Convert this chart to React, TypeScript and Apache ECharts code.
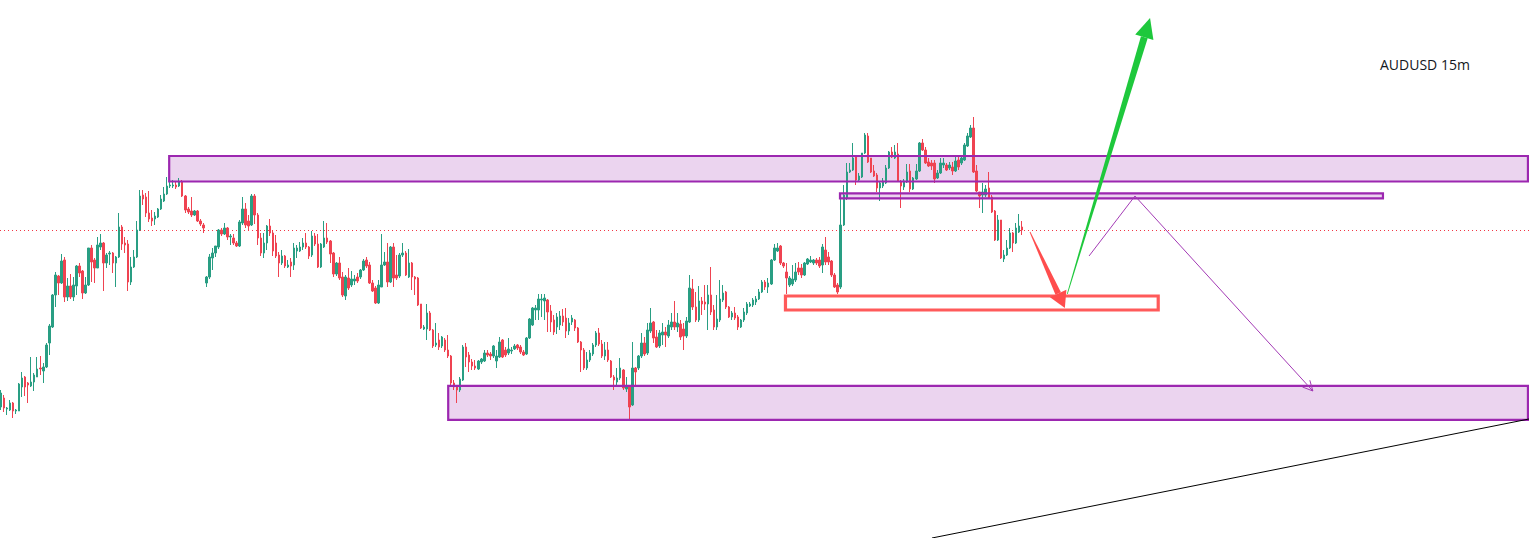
import React, { useEffect, useRef } from "react";
import * as echarts from "echarts";

const SYMBOL_LABEL = "AUDUSD 15m";
const BASE_PRICE = 0.65;
const POINT = 0.00001;

// OHLC of each 15m bar, in points above 0.65000
const opens = [
  593, 602, 591, 590, 597, 589, 589, 613, 623, 617,
  614, 618, 623, 632, 629, 633, 657, 673, 705, 724,
  717, 740, 703, 714, 703, 714, 734, 729, 707, 715,
  752, 740, 732, 753, 757, 737, 746, 747, 737, 743,
  773, 757, 756, 718, 733, 743, 770, 805, 803, 787,
  782, 781, 783, 791, 799, 806, 814, 814, 815, 814,
  818, 804, 791, 789, 785, 789, 779, 775, 717, 723,
  742, 747, 753, 770, 766, 772, 763, 762, 757, 754,
  777, 791, 779, 775, 804, 785, 762, 747, 757, 774,
  767, 757, 745, 737, 744, 733, 738, 735, 749, 749,
  753, 757, 753, 745, 764, 756, 733, 753, 762, 759,
  747, 726, 737, 723, 704, 722, 715, 719, 723, 723,
  730, 740, 735, 717, 712, 697, 713, 735, 738, 718,
  753, 725, 724, 745, 747, 723, 737, 723, 722, 696,
  671, 671, 687, 670, 655, 660, 654, 660, 650, 644,
  617, 613, 610, 620, 653, 645, 638, 634, 631, 638,
  639, 647, 646, 644, 639, 643, 660, 650, 647, 649,
  651, 655, 653, 648, 646, 662, 675, 690, 690, 700,
  699, 700, 689, 680, 673, 675, 684, 682, 669, 678,
  680, 672, 658, 650, 632, 640, 646, 655, 667, 656,
  644, 650, 639, 623, 618, 622, 630, 611, 613, 595,
  632, 632, 644, 657, 647, 669, 678, 663, 654, 665,
  668, 664, 673, 678, 673, 676, 671, 664, 678, 711,
  693, 680, 699, 698, 696, 705, 690, 673, 680, 700,
  708, 693, 683, 687, 683, 673, 680, 687, 694, 695,
  698, 701, 708, 718, 713, 716, 740, 749, 754, 737,
  728, 715, 716, 720, 732, 732, 725, 736, 738, 737,
  740, 740, 735, 750, 743, 739, 725, 715, 713, 775,
  802, 828, 830, 843, 820, 823, 847, 864, 842, 829,
  825, 812, 814, 817, 832, 848, 842, 846, 818, 813,
  818, 829, 811, 821, 829, 857, 850, 838, 837, 837,
  822, 827, 835, 835, 832, 833, 829, 840, 837, 840,
  854, 863, 872, 829, 808, 805, 805, 812, 803, 789,
  760, 780, 741, 745, 752, 767, 757, 768, 773,
];
const closes = [
  607, 592, 592, 597, 589, 590, 616, 622, 613, 615,
  618, 625, 631, 631, 633, 655, 674, 705, 725, 717,
  739, 703, 714, 703, 715, 734, 727, 707, 715, 752,
  738, 732, 755, 757, 737, 745, 747, 737, 743, 773,
  756, 755, 718, 733, 743, 770, 804, 801, 787, 781,
  779, 784, 791, 801, 806, 814, 815, 815, 813, 818,
  804, 790, 788, 785, 789, 779, 776, 772, 723, 743,
  747, 754, 770, 766, 772, 763, 764, 757, 754, 778,
  791, 775, 774, 804, 785, 762, 747, 757, 774, 767,
  749, 744, 737, 744, 734, 735, 734, 752, 752, 753,
  757, 753, 744, 764, 756, 733, 756, 762, 758, 746,
  726, 737, 722, 705, 723, 712, 721, 721, 719, 730,
  739, 734, 717, 709, 697, 715, 735, 738, 718, 753,
  722, 722, 745, 747, 725, 737, 723, 721, 695, 672,
  673, 687, 670, 654, 657, 653, 663, 650, 644, 617,
  613, 610, 621, 653, 643, 638, 634, 632, 639, 641,
  647, 645, 644, 654, 644, 658, 643, 645, 651, 650,
  654, 652, 648, 645, 662, 681, 692, 692, 701, 701,
  702, 688, 678, 668, 683, 684, 678, 669, 677, 682,
  672, 658, 650, 632, 640, 647, 655, 667, 656, 644,
  650, 640, 623, 620, 622, 632, 612, 614, 593, 632,
  628, 644, 657, 646, 670, 677, 662, 653, 667, 668,
  665, 675, 678, 673, 677, 663, 664, 679, 712, 693,
  680, 699, 696, 696, 705, 688, 673, 681, 701, 707,
  693, 683, 687, 682, 673, 680, 688, 696, 696, 700,
  701, 708, 718, 713, 717, 740, 752, 752, 737, 734,
  722, 722, 721, 728, 728, 725, 737, 741, 740, 740,
  737, 734, 753, 738, 738, 725, 713, 708, 775, 805,
  828, 830, 842, 820, 824, 847, 865, 838, 828, 824,
  812, 817, 819, 832, 848, 843, 848, 819, 814, 819,
  828, 811, 822, 829, 857, 850, 837, 834, 834, 821,
  827, 837, 837, 830, 835, 829, 839, 833, 842, 855,
  864, 872, 828, 809, 804, 808, 811, 802, 788, 760,
  780, 742, 745, 752, 767, 757, 772, 774, 770,
];
const lows = [
  590, 588, 585, 589, 582, 586, 589, 603, 604, 597,
  613, 609, 623, 625, 617, 632, 645, 672, 693, 705,
  716, 698, 699, 701, 699, 705, 723, 701, 706, 714,
  718, 717, 732, 750, 709, 732, 735, 727, 713, 742,
  750, 747, 709, 715, 732, 742, 769, 795, 783, 778,
  774, 775, 782, 790, 798, 805, 812, 812, 811, 813,
  803, 787, 786, 783, 784, 778, 774, 767, 713, 721,
  730, 743, 751, 764, 765, 760, 755, 755, 753, 753,
  775, 772, 770, 774, 776, 755, 744, 742, 750, 764,
  744, 742, 723, 735, 732, 732, 723, 730, 742, 748,
  750, 751, 741, 743, 754, 732, 732, 752, 756, 737,
  723, 724, 720, 703, 700, 710, 713, 715, 717, 721,
  729, 732, 716, 708, 696, 696, 713, 734, 713, 717,
  713, 720, 722, 743, 724, 722, 710, 705, 694, 671,
  670, 660, 669, 652, 653, 650, 652, 648, 642, 615,
  610, 597, 608, 619, 633, 628, 630, 630, 630, 636,
  638, 643, 640, 642, 632, 642, 642, 643, 645, 646,
  650, 650, 646, 644, 645, 661, 674, 680, 680, 683,
  680, 668, 668, 665, 666, 670, 674, 662, 665, 675,
  669, 657, 628, 630, 630, 638, 644, 653, 654, 642,
  640, 638, 622, 610, 614, 620, 610, 608, 581, 594,
  613, 630, 642, 644, 645, 667, 657, 652, 652, 655,
  653, 662, 670, 670, 668, 660, 650, 662, 677, 690,
  678, 678, 685, 690, 670, 685, 670, 670, 678, 698,
  691, 682, 680, 680, 670, 672, 678, 685, 693, 693,
  695, 700, 707, 710, 707, 715, 739, 748, 735, 732,
  706, 713, 714, 718, 725, 722, 724, 735, 737, 735,
  735, 732, 727, 735, 735, 723, 712, 706, 711, 774,
  800, 827, 829, 815, 819, 822, 846, 837, 827, 823,
  808, 799, 812, 816, 831, 842, 841, 818, 792, 810,
  817, 808, 810, 820, 828, 849, 836, 833, 830, 817,
  821, 826, 832, 829, 830, 825, 828, 830, 835, 839,
  853, 862, 827, 808, 792, 787, 803, 801, 787, 759,
  759, 741, 738, 744, 751, 748, 756, 767, 765,
];
const highs = [
  610, 605, 593, 600, 598, 591, 617, 628, 624, 618,
  643, 627, 643, 644, 637, 657, 676, 706, 728, 725,
  746, 743, 722, 726, 723, 735, 737, 730, 723, 752,
  755, 742, 763, 766, 758, 747, 749, 748, 744, 787,
  775, 763, 760, 743, 750, 779, 810, 810, 807, 809,
  790, 788, 792, 805, 813, 823, 824, 820, 819, 822,
  820, 805, 793, 803, 790, 790, 781, 777, 724, 746,
  752, 754, 771, 772, 777, 773, 766, 766, 759, 780,
  803, 797, 785, 806, 806, 787, 767, 767, 775, 781,
  769, 765, 748, 750, 745, 740, 742, 757, 755, 758,
  762, 767, 754, 769, 767, 766, 757, 779, 777, 760,
  748, 738, 743, 728, 725, 732, 729, 725, 727, 731,
  741, 743, 738, 720, 714, 720, 766, 748, 757, 754,
  757, 745, 747, 757, 749, 751, 738, 724, 723, 696,
  675, 696, 689, 671, 677, 667, 664, 662, 665, 645,
  620, 615, 623, 655, 657, 648, 641, 640, 640, 642,
  650, 650, 648, 655, 650, 663, 661, 653, 662, 653,
  656, 656, 655, 650, 663, 682, 693, 695, 706, 706,
  706, 701, 695, 685, 687, 689, 691, 692, 682, 685,
  681, 673, 659, 652, 648, 650, 657, 669, 672, 660,
  658, 658, 640, 625, 632, 642, 631, 623, 615, 658,
  633, 645, 667, 663, 677, 692, 679, 670, 670, 677,
  673, 680, 687, 699, 687, 680, 677, 683, 725, 721,
  708, 714, 703, 715, 715, 733, 695, 705, 720, 715,
  709, 694, 689, 693, 685, 681, 692, 698, 698, 702,
  704, 711, 720, 720, 722, 741, 756, 757, 755, 738,
  737, 724, 735, 737, 738, 736, 738, 742, 744, 741,
  742, 743, 756, 763, 748, 740, 727, 717, 807, 815,
  837, 837, 857, 845, 827, 847, 867, 867, 842, 835,
  827, 818, 822, 835, 849, 853, 855, 857, 820, 821,
  836, 836, 823, 836, 858, 861, 853, 842, 840, 840,
  830, 842, 842, 837, 838, 838, 843, 843, 845, 857,
  867, 875, 883, 835, 808, 817, 815, 828, 805, 790,
  785, 780, 750, 760, 772, 768, 777, 786, 779,
];

// Drawings: bar index / points above 0.65000
// supply-demand zones: [fromBar, toBar, lowPts, highPts]
const zones = [
  [55.68, 505.5, 818.5, 844],
  [277.75, 457.5, 801.7, 806.7],
  [148.05, 505.5, 580.2, 614.2],
];
// target box: [fromBar, toBar, lowPts, highPts]
const targetBox = [[259.7, 383.1, 690, 704]];
// arrows: [fromBar, fromPts, toBar, toPts]
const arrows = [
  [340.65, 768, 352.2, 692],
  [353.0, 706, 380.4, 982],
];
// projected path: [bar, pts]
const projection = [
  [360.2, 744],
  [375.4, 804],
  [434.3, 609],
];
// trend line: [bar, pts]
const trendLine = [
  [308.2, 462],
  [505.85, 581],
];

const X_MIN = -0.331;
const X_MAX = 505.85;
const Y_MIN_PTS = 462;
const Y_MAX_PTS = 1000;

const UP = "#299e83";
const DOWN = "#ef4351";
const ZONE_LINE = "#9c27b0";
const ZONE_FILL = "rgba(156,39,176,0.2)";

const ARROW_STYLES = [
  { color: "#ff4d4d", w0: 0.8, w1: 6, head: 16, hw: 18 },
  { color: "#1ec83c", w0: 0.8, w1: 7, head: 20, hw: 19 },
];

const px = (pts: number) => BASE_PRICE + pts * POINT;

function buildOption() {
  const candles = opens.map((o, i) => [i, px(o), px(closes[i]), px(lows[i]), px(highs[i])]);
  const lastClose = px(closes[closes.length - 1]);
  const boxData = (arr: number[][]) => arr.map((z) => [z[0], z[1], px(z[2]), px(z[3])]);

  const rectRender = (fill: string, stroke: string, lw: number) => (params: any, api: any) => {
    const a = api.coord([api.value(0), api.value(3)]);
    const b = api.coord([api.value(1), api.value(2)]);
    return {
      type: "rect",
      shape: { x: a[0], y: a[1], width: b[0] - a[0], height: b[1] - a[1] },
      style: { fill, stroke, lineWidth: lw },
    };
  };

  return {
    animation: false,
    backgroundColor: "#ffffff",
    title: {
      text: SYMBOL_LABEL,
      left: 1375,
      top: 52,
      textStyle: { fontSize: 14, fontWeight: "normal", color: "#131722", fontFamily: "Open Sans" },
    },
    grid: { left: 0, right: 0, top: 0, bottom: 0, containLabel: false },
    xAxis: {
      type: "value",
      min: X_MIN,
      max: X_MAX,
      show: false,
      splitLine: { show: false },
    },
    yAxis: {
      type: "value",
      min: px(Y_MIN_PTS),
      max: px(Y_MAX_PTS),
      show: false,
      splitLine: { show: false },
    },
    series: [
      {
        type: "custom",
        name: "zoneFill",
        z: 1,
        silent: true,
        data: boxData(zones),
        encode: { x: [0, 1], y: [2, 3] },
        renderItem: rectRender(ZONE_FILL, "none", 0),
      },
      {
        type: "custom",
        name: "lastPrice",
        z: 1,
        silent: true,
        data: [[X_MIN, lastClose]],
        renderItem: (params: any, api: any) => {
          const a = api.coord([X_MIN, api.value(1)]);
          const b = api.coord([X_MAX, api.value(1)]);
          const y = Math.round(a[1]) + 0.5;
          return {
            type: "line",
            shape: { x1: a[0], y1: y, x2: b[0], y2: y },
            style: { stroke: "#f23645", lineWidth: 1, lineDash: [1, 3] },
          };
        },
      },
      {
        type: "candlestick",
        name: SYMBOL_LABEL,
        z: 2,
        silent: true,
        barWidth: 2,
        data: candles,
        encode: { x: 0, y: [1, 2, 3, 4] },
        itemStyle: {
          color: UP,
          color0: DOWN,
          borderColor: UP,
          borderColor0: DOWN,
          borderWidth: 1,
        },
      },
      {
        type: "custom",
        name: "zoneLine",
        z: 3,
        silent: true,
        data: boxData(zones),
        encode: { x: [0, 1], y: [2, 3] },
        renderItem: rectRender("none", ZONE_LINE, 2.2),
      },
      {
        type: "custom",
        name: "target",
        z: 3,
        silent: true,
        data: boxData(targetBox),
        encode: { x: [0, 1], y: [2, 3] },
        renderItem: rectRender("none", "rgba(255,72,72,0.9)", 3.2),
      },
      {
        type: "custom",
        name: "trend",
        z: 3,
        silent: true,
        data: trendLine.map((p) => [p[0], px(p[1])]),
        renderItem: (params: any, api: any) => {
          if (params.dataIndex !== 0) return null;
          const pts = trendLine.map((p) => api.coord([p[0], px(p[1])]));
          return {
            type: "polyline",
            shape: { points: pts },
            style: { stroke: "#000000", lineWidth: 1, fill: "none" },
          };
        },
      },
      {
        type: "custom",
        name: "projection",
        z: 4,
        silent: true,
        data: projection.map((p) => [p[0], px(p[1])]),
        renderItem: (params: any, api: any) => {
          if (params.dataIndex !== 0) return null;
          const pts = projection.map((p) => api.coord([p[0], px(p[1])]));
          const a = pts[pts.length - 2];
          const b = pts[pts.length - 1];
          const dx = b[0] - a[0];
          const dy = b[1] - a[1];
          const len = Math.hypot(dx, dy);
          const ux = dx / len;
          const uy = dy / len;
          const nx = -uy;
          const ny = ux;
          const hl = 10;
          const hw = 5;
          const head = [
            [b[0] - ux * hl + nx * hw, b[1] - uy * hl + ny * hw],
            [b[0], b[1]],
            [b[0] - ux * hl - nx * hw, b[1] - uy * hl - ny * hw],
          ];
          return {
            type: "group",
            children: [
              { type: "polyline", shape: { points: pts }, style: { stroke: "#a33ab5", lineWidth: 1, fill: "none" } },
              { type: "polyline", shape: { points: head }, style: { stroke: "#a33ab5", lineWidth: 1, fill: "none" } },
            ],
          };
        },
      },
      {
        type: "custom",
        name: "arrows",
        z: 5,
        silent: true,
        data: arrows.map((a) => [a[0], px(a[1]), a[2], px(a[3])]),
        encode: { x: [0, 2], y: [1, 3] },
        renderItem: (params: any, api: any) => {
          const s = ARROW_STYLES[params.dataIndex];
          const p0 = api.coord([api.value(0), api.value(1)]);
          const p1 = api.coord([api.value(2), api.value(3)]);
          const dx = p1[0] - p0[0];
          const dy = p1[1] - p0[1];
          const len = Math.hypot(dx, dy);
          const ux = dx / len;
          const uy = dy / len;
          const nx = -uy;
          const ny = ux;
          const bx = p1[0] - ux * s.head;
          const by = p1[1] - uy * s.head;
          return {
            type: "group",
            children: [
              {
                type: "polygon",
                shape: {
                  points: [
                    [p0[0] + (nx * s.w0) / 2, p0[1] + (ny * s.w0) / 2],
                    [bx + (nx * s.w1) / 2, by + (ny * s.w1) / 2],
                    [bx - (nx * s.w1) / 2, by - (ny * s.w1) / 2],
                    [p0[0] - (nx * s.w0) / 2, p0[1] - (ny * s.w0) / 2],
                  ],
                },
                style: { fill: s.color },
              },
              {
                type: "polygon",
                shape: {
                  points: [
                    [p1[0], p1[1]],
                    [bx + (nx * s.hw) / 2, by + (ny * s.hw) / 2],
                    [bx - (nx * s.hw) / 2, by - (ny * s.hw) / 2],
                  ],
                },
                style: { fill: s.color },
              },
            ],
          };
        },
      },
    ],
  };
}

export default function App() {
  const ref = useRef<HTMLDivElement>(null);
  useEffect(() => {
    document.body.style.margin = "0";
    const chart = echarts.init(ref.current as HTMLDivElement, null, { renderer: "svg" });
    chart.setOption(buildOption() as any);
    return () => {
      chart.dispose();
    };
  }, []);
  return <div ref={ref} style={{ width: 1529, height: 538 }} />;
}
